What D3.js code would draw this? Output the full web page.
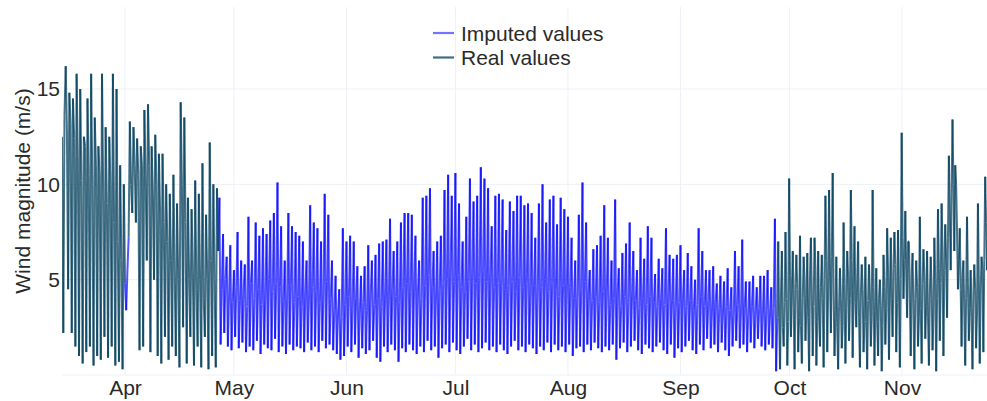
<!DOCTYPE html>
<html>
<head>
<meta charset="utf-8">
<script src="https://cdn.jsdelivr.net/npm/d3@7"></script>
<style>
  html, body { margin: 0; padding: 0; background: #fff; }
  svg { display: block; font-family: "Liberation Sans", Arial, sans-serif; }
</style>
</head>
<body>
<svg id="chart" width="987" height="401"></svg>
<script>
// ---------------- DATA ----------------
const monthTicks = ["Apr", "May", "Jun", "Jul", "Aug", "Sep", "Oct", "Nov"];
const yTicks = [5, 10, 15];
const legendLabels = ["Imputed values", "Real values"];

// Real values, from 14 Mar 16:00, every 8 h
const realStartA = "2019-03-14T16:00:00Z";
const realStepA = 8;
const realValuesA = [
  12.5, 2.2, 13.6, 16.2, 12.8, 4.5, 14.8, 13.2, 2.2, 14.5, 12.4, 1.5,
  15.8, 11.5, 1.0, 15.0, 10.2, 0.6, 12.5, 12.0, 1.2, 14.5, 10.5, 1.5,
  15.8, 10.0, 0.5, 13.5, 11.0, 1.0, 12.0, 10.5, 0.8, 15.8, 9.5, 2.0,
  13.0, 9.0, 0.9, 12.5, 10.0, 1.5, 15.8, 8.0, 0.5, 15.0, 7.0, 0.7,
  11.0, 6.0, 0.3, 10.0, 4.8
];
// Imputed values, from 1 Apr 00:00, every 8 h
const imputedStartA = "2019-04-01T00:00:00Z";
const imputedStepA = 8;
const imputedValuesA = [4.8, 3.4, 5.5, 7.2];
// Real values, from 2 Apr 00:00, every 8 h
const realStartB = "2019-04-02T00:00:00Z";
const realStepB = 8;
const realValuesB = [
  7.2, 13.3, 10.0, 8.5, 13.0, 11.0, 8.0, 12.4, 10.5, 1.3, 12.0, 11.0,
  1.5, 13.9, 10.5, 6.0, 14.2, 11.0, 1.2, 12.0, 9.5, 5.0, 12.6, 10.0,
  1.0, 11.6, 8.5, 0.6, 11.6, 8.0, 2.0, 10.0, 7.0, 0.8, 9.5, 6.0,
  1.5, 10.5, 5.5, 1.0, 9.0, 5.0, 0.4, 14.3, 10.0, 2.5, 13.5, 8.0,
  0.6, 9.3, 5.0, 2.0, 8.7, 5.5, 0.5, 10.2, 4.5, 1.5, 9.5, 5.0,
  0.4, 11.1, 4.0, 2.0, 8.4, 5.0, 0.3, 12.2, 6.0, 1.0, 10.0, 5.0,
  0.4, 9.8, 6.5
];
// Imputed values, from 26 Apr 16:00, every 8 h
const imputedStartB = "2019-04-26T16:00:00Z";
const imputedStepB = 8;
const imputedValuesB = [
  6.5,
  9.3, 1.6, 4.5, 7.4, 2.2, 5.0, 6.2, 1.5, 4.2, 6.8, 1.3, 3.8, 5.5, 2.0, 4.6,
  7.5, 1.4, 3.9, 6.0, 1.7, 4.4, 5.8, 1.2, 3.6, 8.3, 1.5, 4.8, 6.0, 1.3, 4.0,
  8.0, 1.8, 4.5, 7.3, 1.1, 3.7, 7.7, 1.6, 4.3, 7.4, 1.4, 5.0, 8.1, 1.3, 4.4,
  8.5, 1.9, 4.8, 10.1, 1.2, 4.6, 7.8, 1.5, 3.9, 6.0, 1.1, 4.2, 8.5, 1.6, 4.7,
  7.8, 1.3, 3.8, 7.5, 1.5, 4.1, 7.3, 1.4, 3.6, 7.0, 1.2, 4.3, 6.0, 1.7, 3.9,
  8.9, 1.3, 4.6, 8.0, 1.5, 4.4, 7.7, 1.2, 3.8, 7.0, 1.8, 4.2, 9.5, 1.4, 4.9,
  8.4, 1.6, 4.0, 6.0, 1.3, 3.4, 5.2, 1.1, 3.2, 4.5, 0.8, 3.0, 7.7, 1.0, 3.7,
  7.0, 1.5, 4.1, 7.3, 1.2, 3.5, 7.0, 1.6, 4.0, 5.7, 0.9, 3.3, 5.2, 1.4, 3.8,
  5.7, 1.1, 3.4, 6.8, 1.3, 4.2, 6.0, 1.8, 3.7, 6.3, 0.9, 4.0, 6.9, 0.7, 3.6,
  7.0, 1.5, 4.3, 7.1, 1.2, 3.9, 8.2, 1.6, 4.5, 6.5, 1.3, 4.1, 7.0, 0.7, 3.8,
  8.0, 1.4, 4.6, 8.5, 1.2, 4.8, 8.5, 1.6, 4.4, 8.4, 1.3, 5.0, 7.3, 1.1, 4.3,
  6.0, 1.5, 4.0, 9.3, 1.2, 4.7, 9.4, 1.8, 5.2, 9.8, 1.3, 4.6, 6.5, 1.5, 4.2,
  7.0, 0.9, 4.5, 7.3, 1.4, 4.8, 9.7, 1.6, 5.0, 10.5, 1.2, 5.4, 9.4, 1.7, 4.9,
  10.6, 1.3, 5.2, 9.0, 1.1, 4.6, 7.0, 1.5, 4.4, 8.3, 1.9, 4.9, 10.3, 1.3, 5.3,
  9.1, 1.6, 4.8, 9.4, 1.2, 5.1, 10.9, 1.4, 5.5, 10.3, 1.7, 4.9, 9.8, 1.3, 5.2,
  7.8, 1.5, 4.6, 9.4, 1.2, 4.8, 9.5, 1.6, 5.0, 9.2, 1.3, 4.5, 7.6, 1.1, 4.7,
  9.1, 1.5, 4.9, 8.6, 1.8, 4.4, 9.4, 1.3, 5.1, 9.4, 1.5, 4.6, 8.9, 1.2, 4.8,
  9.0, 1.6, 4.3, 8.5, 1.4, 4.7, 7.2, 1.1, 4.2, 9.0, 1.5, 4.6, 10.0, 1.3, 5.0,
  8.0, 1.7, 4.4, 9.2, 1.2, 4.8, 9.4, 1.6, 4.5, 7.9, 1.3, 4.1, 9.3, 1.5, 4.7,
  8.7, 1.2, 4.3, 8.3, 1.6, 4.6, 7.2, 1.0, 4.0, 6.0, 1.4, 4.2, 8.4, 1.5, 4.5,
  10.1, 1.2, 4.9, 8.0, 1.6, 4.3, 5.5, 1.3, 3.9, 6.6, 1.7, 4.1, 6.8, 1.4, 3.8,
  7.3, 1.2, 4.4, 8.9, 1.5, 4.2, 7.2, 1.3, 3.7, 6.0, 1.6, 4.0, 9.2, 0.8, 4.3,
  5.6, 1.4, 3.6, 6.4, 1.7, 4.1, 6.9, 1.2, 3.8, 8.0, 1.5, 4.2, 6.5, 1.8, 3.9,
  5.5, 1.3, 3.5, 7.2, 1.1, 4.0, 6.1, 1.6, 3.7, 7.8, 1.4, 4.1, 7.2, 1.2, 3.8,
  5.3, 1.5, 3.6, 6.1, 1.7, 4.0, 5.6, 1.3, 3.7, 7.7, 1.1, 4.2, 6.3, 1.6, 3.9,
  6.1, 0.9, 3.5, 6.3, 1.4, 3.8, 6.8, 1.2, 4.0, 5.5, 1.5, 3.6, 6.4, 1.8, 3.9,
  5.7, 1.3, 3.4, 5.0, 1.1, 3.7, 7.7, 1.6, 4.1, 6.5, 1.3, 3.6, 5.5, 1.9, 3.9,
  5.5, 1.4, 3.3, 5.7, 1.6, 3.8, 4.8, 1.2, 3.5, 5.2, 1.7, 3.2, 4.9, 1.3, 3.6,
  5.6, 1.0, 3.4, 4.6, 1.5, 3.1, 6.5, 1.8, 3.7, 5.7, 1.4, 3.3, 7.1, 1.6, 3.5,
  4.9, 1.2, 3.2, 4.9, 1.7, 3.6, 5.2, 1.4, 3.3, 4.6, 1.9, 3.5, 5.2, 1.5, 3.1,
  5.2, 1.3, 3.4, 5.5, 1.6, 3.2, 4.6, 1.4, 3.5, 8.2, 0.2, 3.0
];
// Real values, from 27 Sep 16:00, every 6 h
const realStartC = "2019-09-27T16:00:00Z";
const realStepC = 6;
const realValuesC = [
  3.0,
  7.0, 3.0, 0.3, 4.2, 6.5, 2.5, 1.5, 3.8, 7.5, 4.0, 0.5, 2.8, 10.3, 5.2, 2.0, 4.5,
  6.5, 3.5, 0.3, 4.8, 6.3, 4.5, 1.2, 3.0, 7.3, 2.6, 0.6, 4.0, 6.2, 5.0, 1.8, 3.4,
  6.4, 3.0, 0.2, 5.2, 7.2, 4.2, 1.0, 3.6, 7.2, 5.5, 0.5, 2.8, 6.5, 3.2, 1.5, 4.6,
  6.3, 4.0, 0.4, 5.0, 9.4, 6.0, 1.2, 4.4, 9.7, 5.5, 2.2, 6.2, 10.6, 4.2, 1.0, 3.0,
  6.2, 2.5, 0.3, 3.6, 5.6, 4.0, 1.4, 2.6, 8.0, 4.8, 0.6, 3.5, 6.5, 5.2, 1.8, 4.0,
  9.7, 6.0, 0.9, 4.5, 7.8, 3.8, 2.5, 5.0, 7.0, 3.0, 0.4, 4.2, 5.8, 4.5, 1.2, 2.8,
  6.2, 2.8, 0.3, 3.9, 5.8, 4.2, 1.5, 3.0, 9.7, 4.6, 0.5, 3.4, 5.6, 2.8, 1.0, 4.0,
  5.0, 3.6, 0.2, 2.6, 6.3, 4.6, 1.6, 3.5, 7.7, 5.4, 0.8, 4.2, 7.2, 4.0, 2.0, 5.6,
  7.5, 5.8, 1.2, 3.8, 7.6, 4.4, 0.4, 5.0, 12.7, 7.2, 4.0, 6.0, 8.6, 5.5, 3.0, 7.0,
  7.0, 4.0, 1.0, 5.2, 6.4, 3.2, 0.3, 4.0, 6.0, 4.6, 1.5, 3.0, 8.3, 3.5, 0.6, 4.8,
  6.6, 5.2, 1.9, 3.6, 6.5, 3.0, 0.5, 4.2, 6.2, 4.4, 1.3, 3.2, 7.2, 5.0, 0.2, 4.0,
  8.7, 5.6, 1.8, 4.8, 9.0, 6.4, 1.0, 5.5, 7.9, 6.0, 3.0, 7.2, 11.5, 8.5, 5.5, 9.5,
  13.4, 10.0, 6.5, 11.0, 10.0, 7.5, 4.5, 6.0, 7.7, 4.5, 1.5, 5.2, 6.0, 3.2, 0.5, 4.0,
  8.3, 4.8, 1.8, 3.5, 5.5, 3.0, 0.3, 4.2, 5.8, 4.5, 1.4, 3.2, 9.0, 5.0, 0.6, 4.4,
  6.2, 5.5, 1.2, 6.0, 10.4, 8.0, 5.5, 7.5, 9.5, 8.5, 6.0, 8.0
];

// ---------------- CHART ----------------
const plot = { left: 62, right: 987, top: 7, bottom: 375 };
const colors = { imputed: "#0000ff", real: "#003d5b" };
const textColor = "#2a2a2a";

const svg = d3.select("#chart");

const x = d3.scaleUtc()
  .domain([new Date("2019-03-14T15:30:00Z"), new Date("2019-11-24T10:00:00Z")])
  .range([plot.left, plot.right]);
const y = d3.scaleLinear().domain([0, 15]).range([plot.bottom, 89]);

function makeSeries(start, stepH, values, kind) {
  const t0 = new Date(start).getTime();
  return { kind, points: values.map((v, i) => ({ date: new Date(t0 + i * stepH * 3600e3), value: v })) };
}
const series = [
  makeSeries(imputedStartA, imputedStepA, imputedValuesA, "imputed"),
  makeSeries(imputedStartB, imputedStepB, imputedValuesB, "imputed"),
  makeSeries(realStartA, realStepA, realValuesA, "real"),
  makeSeries(realStartB, realStepB, realValuesB, "real"),
  makeSeries(realStartC, realStepC, realValuesC, "real")
];

// grid
const grid = svg.append("g");
const monthDates = d3.utcMonth.range(new Date("2019-04-01T00:00:00Z"), new Date("2019-11-02T00:00:00Z"));
grid.selectAll("line.v").data(monthDates).join("line")
  .attr("x1", d => x(d)).attr("x2", d => x(d))
  .attr("y1", plot.top).attr("y2", plot.bottom)
  .attr("stroke", "#eef0f7").attr("stroke-width", 1);
grid.selectAll("line.h").data([0].concat(yTicks)).join("line")
  .attr("x1", plot.left).attr("x2", plot.right)
  .attr("y1", d => y(d)).attr("y2", d => y(d))
  .attr("stroke", "#eef0f7").attr("stroke-width", 1);

// clip
svg.append("clipPath").attr("id", "clip").append("rect")
  .attr("x", plot.left).attr("y", plot.top)
  .attr("width", plot.right - plot.left).attr("height", plot.bottom - plot.top);

const dataG = svg.append("g").attr("clip-path", "url(#clip)");
["imputed", "real"].forEach(kind => {
  const g = dataG.append("g")
    .attr("stroke", colors[kind])
    .attr("stroke-opacity", kind === "imputed" ? 0.68 : 0.72)
    .attr("stroke-width", 2)
    .attr("stroke-linecap", "butt");
  series.filter(s => s.kind === kind).forEach(s => {
    const segs = d3.pairs(s.points);
    g.append("g").selectAll("line").data(segs).join("line")
      .attr("x1", d => x(d[0].date)).attr("y1", d => y(d[0].value))
      .attr("x2", d => x(d[1].date)).attr("y2", d => y(d[1].value));
  });
});

// x axis labels
const xAxis = d3.axisBottom(x)
  .tickValues(monthDates)
  .tickFormat((d, i) => monthTicks[i])
  .tickSize(0).tickPadding(0);
const xg = svg.append("g").attr("transform", `translate(0,${plot.bottom})`).call(xAxis);
xg.select(".domain").remove();
xg.selectAll("text").attr("font-size", 21).attr("fill", textColor)
  .attr("font-family", "Liberation Sans, Arial, sans-serif")
  .attr("dy", null).attr("y", 20);

// y axis labels
const yAxis = d3.axisLeft(y).tickValues(yTicks).tickFormat(d3.format("d")).tickSize(0).tickPadding(2);
const yg = svg.append("g").attr("transform", `translate(${plot.left},0)`).call(yAxis);
yg.select(".domain").remove();
yg.selectAll("text").attr("font-size", 21).attr("fill", textColor)
  .attr("font-family", "Liberation Sans, Arial, sans-serif");

svg.append("text")
  .attr("transform", `translate(22,${(plot.top + plot.bottom) / 2}) rotate(-90)`)
  .attr("text-anchor", "middle").attr("dominant-baseline", "central")
  .attr("font-size", 21).attr("fill", textColor)
  .text("Wind magnitude (m/s)");

// legend
const legend = svg.append("g");
["imputed", "real"].forEach((k, i) => {
  const ly = 33 + i * 24.5;
  legend.append("line")
    .attr("x1", 433).attr("x2", 454).attr("y1", ly).attr("y2", ly)
    .attr("stroke", colors[k]).attr("stroke-opacity", k === "imputed" ? 0.55 : 0.75)
    .attr("stroke-width", 2.2);
  legend.append("text")
    .attr("x", 461).attr("y", ly).attr("dominant-baseline", "central")
    .attr("font-size", 21).attr("fill", textColor)
    .text(legendLabels[i]);
});
</script>
</body>
</html>
